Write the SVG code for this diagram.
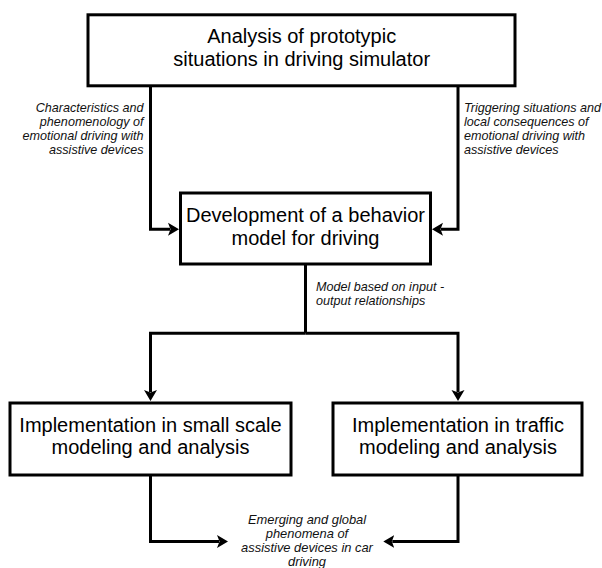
<svg xmlns="http://www.w3.org/2000/svg" width="602" height="568" viewBox="0 0 602 568">
<style>
.box{fill:#fff;stroke:#000;stroke-width:3}
.bt{font-family:"Liberation Sans",Arial,sans-serif;font-size:20px;fill:#000;text-anchor:middle}
.lb{font-family:"Liberation Sans",Arial,sans-serif;font-size:12.6px;font-style:italic;fill:#111}
.cn{fill:none;stroke:#000;stroke-width:3}
</style>
<defs>
<marker id="ah" markerUnits="userSpaceOnUse" markerWidth="12" markerHeight="14" refX="2" refY="7" orient="auto">
<path d="M0,0.5 L11,7 L0,13.5 L2.5,7 z" fill="#000"/>
</marker>
</defs>
<rect width="602" height="568" fill="#fff"/>
<g id="connectors">
<path class="cn" d="M150.5,87 V229.3 H170" marker-end="url(#ah)"/>
<path class="cn" d="M458,87 V229.3 H441" marker-end="url(#ah)"/>
<path class="cn" d="M305.5,265 V333.3"/>
<path class="cn" d="M305.5,333.3 H150.5 V392" marker-end="url(#ah)"/>
<path class="cn" d="M305.5,333.3 H458 V392" marker-end="url(#ah)"/>
<path class="cn" d="M150.5,476 V541.5 H219" marker-end="url(#ah)"/>
<path class="cn" d="M458,476 V541.5 H392.3" marker-end="url(#ah)"/>
</g>
<g id="labels">
<text class="lb" text-anchor="end"><tspan x="143.5" y="111.5">Characteristics and</tspan><tspan x="143.5" y="125.5">phenomenology of</tspan><tspan x="143.5" y="139.5">emotional driving with</tspan><tspan x="143.5" y="153.5">assistive devices</tspan></text>
<text class="lb"><tspan x="464" y="111.5">Triggering situations and</tspan><tspan x="464" y="125.5">local consequences of</tspan><tspan x="464" y="139.5">emotional driving with</tspan><tspan x="464" y="153.5">assistive devices</tspan></text>
<text class="lb"><tspan x="316" y="291">Model based on input -</tspan><tspan x="316" y="304.5">output relationships</tspan></text>
<text class="lb" text-anchor="middle" style="font-size:12.9px"><tspan x="307" y="523.5">Emerging and global</tspan><tspan x="307" y="537.6">phenomena of</tspan><tspan x="307" y="551.8">assistive devices in car</tspan><tspan x="307" y="566">driving</tspan></text>
</g>
<g id="node-analysis">
<rect class="box" x="88" y="14.8" width="427" height="71"/>
<text class="bt"><tspan x="301.7" y="43">Analysis of prototypic</tspan><tspan x="301.7" y="65.5">situations in driving simulator</tspan></text>
</g>
<g id="node-behavior">
<rect class="box" x="180.5" y="193" width="250" height="71"/>
<text class="bt"><tspan x="305.5" y="222">Development of a behavior</tspan><tspan x="305.5" y="245">model for driving</tspan></text>
</g>
<g id="node-small-scale">
<rect class="box" x="10" y="403" width="281" height="72"/>
<text class="bt"><tspan x="150.5" y="431.7">Implementation in small scale</tspan><tspan x="150.5" y="454">modeling and analysis</tspan></text>
</g>
<g id="node-traffic">
<rect class="box" x="333" y="403" width="249" height="72"/>
<text class="bt"><tspan x="458" y="431.7">Implementation in traffic</tspan><tspan x="458" y="454">modeling and analysis</tspan></text>
</g>
</svg>
